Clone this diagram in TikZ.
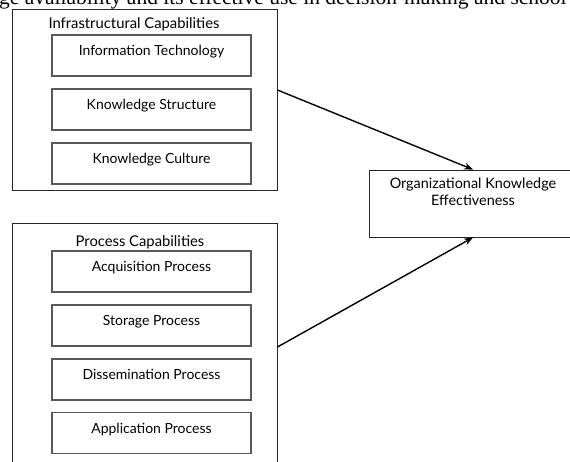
\documentclass[tikz,border=0pt]{standalone}
\usepackage{fontspec}
\setmainfont{Lato}
\newfontfamily\serifcut{Liberation Serif}
\usetikzlibrary{arrows.meta,calc}
\tikzset{
  outerbox/.style={draw=black!85, line width=0.9pt, minimum width=265pt, inner sep=0pt},
  innerbox/.style={draw=black!65, line width=1.1pt, minimum width=199pt, minimum height=41pt, inner sep=0pt, text height=8pt, text depth=8pt, font=\fontsize{14}{16}\selectfont},
  titletext/.style={anchor=base, inner sep=0pt, font=\fontsize{14.8}{17}\selectfont},
  oketext/.style={anchor=base, inner sep=0pt, font=\fontsize{14.4}{17}\selectfont},
  arr/.style={line width=1.4pt, -{Stealth[length=9pt,width=7pt]}}
}
\begin{document}
\begin{tikzpicture}[x=1pt,y=-1pt]
\useasboundingbox (0,0) rectangle (570,461);
\clip (0,0) rectangle (570,461);
\node[anchor=base west, inner sep=0pt, font=\serifcut\fontsize{21.5}{24}\selectfont] (cut) at (-1,4.5) {ge availability and its effective use in decision-making and school};
% infrastructural
\node[outerbox, minimum height=181pt] (infra) at (144.5,99.5) {};
\node[titletext] (infratitle) at (134,28) {Infrastructural Capabilities};
\node[innerbox] (it) at (151.5,55.5) {Information Technology};
\node[innerbox] (ks) at (151.5,109.5) {Knowledge Structure};
\node[innerbox] (kc) at (151.5,163.5) {Knowledge Culture};
% process
\node[outerbox, minimum height=257pt] (proc) at (144.5,351.5) {};
\node[titletext] (proctitle) at (140,246) {Process Capabilities};
\node[innerbox] (acq) at (151.5,271.5) {Acquisition Process};
\node[innerbox] (sto) at (151.5,325.5) {Storage Process};
\node[innerbox] (dis) at (151.5,379.5) {Dissemination Process};
\node[innerbox] (app) at (151.5,433) {Application Process};
% outcome
\node[draw=black!85, line width=0.9pt, minimum width=208pt, minimum height=67pt, inner sep=0pt] (oke) at (473,203.5) {};
\node[oketext] (oke1) at (473,188) {Organizational Knowledge};
\node[oketext] (oke2) at (473,205) {Effectiveness};
% arrows
\draw[arr] ([yshift=9.5pt]infra.east) -- (oke.north);
\draw[arr] ([yshift=4.5pt]proc.east) -- (oke.south);
\end{tikzpicture}
\end{document}
